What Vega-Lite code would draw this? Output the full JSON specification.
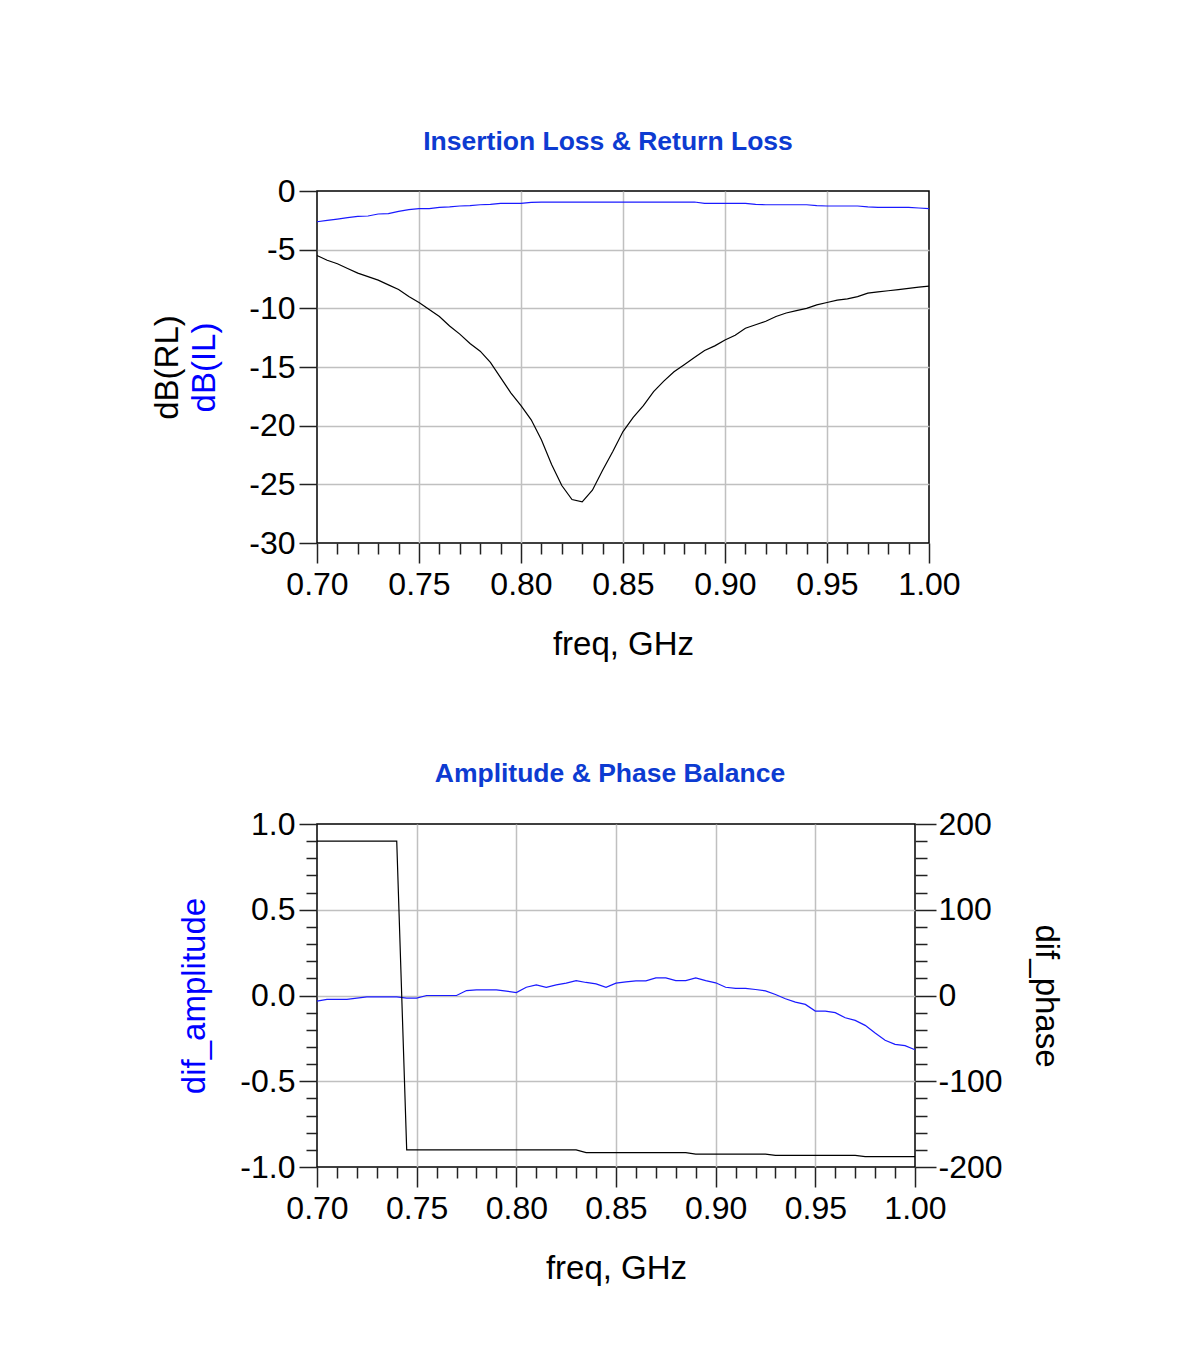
{
  "$schema": "https://vega.github.io/schema/vega-lite/v6.json",
  "padding": {"left": 151, "top": 127, "right": 5, "bottom": 5},
  "background": "white",
  "config": {
    "font": "Liberation Sans",
    "view": {"stroke": "#000000", "strokeWidth": 1.5},
    "axis": {
      "domain": false,
      "labelFont": "Liberation Sans",
      "labelFontSize": 32,
      "labelColor": "#000000",
      "titleFont": "Liberation Sans",
      "titleFontSize": 33,
      "titleFontWeight": "normal",
      "titleColor": "#000000",
      "tickColor": "#222222",
      "tickWidth": 1.5,
      "gridColor": "#c0c0c0",
      "gridWidth": 1.5,
      "labelFlush": false,
      "labelOverlap": false,
      "labelBound": false
    },
    "title": {"font": "Liberation Sans", "fontSize": 26.5, "fontWeight": "bold", "color": "#0d3bd1"},
    "concat": {"spacing": 97}
  },
  "datasets": {
    "top": [
      {"f": 0.700, "IL": -2.62, "RL": -5.5},
      {"f": 0.705, "IL": -2.50, "RL": -5.9},
      {"f": 0.710, "IL": -2.39, "RL": -6.2},
      {"f": 0.715, "IL": -2.27, "RL": -6.6},
      {"f": 0.720, "IL": -2.16, "RL": -7.0},
      {"f": 0.725, "IL": -2.13, "RL": -7.3},
      {"f": 0.730, "IL": -1.96, "RL": -7.6},
      {"f": 0.735, "IL": -1.93, "RL": -8.0},
      {"f": 0.740, "IL": -1.73, "RL": -8.4},
      {"f": 0.745, "IL": -1.59, "RL": -9.0},
      {"f": 0.750, "IL": -1.51, "RL": -9.5},
      {"f": 0.755, "IL": -1.51, "RL": -10.1},
      {"f": 0.760, "IL": -1.39, "RL": -10.7},
      {"f": 0.765, "IL": -1.36, "RL": -11.5},
      {"f": 0.770, "IL": -1.28, "RL": -12.2},
      {"f": 0.775, "IL": -1.25, "RL": -13.0},
      {"f": 0.780, "IL": -1.17, "RL": -13.65},
      {"f": 0.785, "IL": -1.14, "RL": -14.6},
      {"f": 0.790, "IL": -1.05, "RL": -15.9},
      {"f": 0.795, "IL": -1.05, "RL": -17.2},
      {"f": 0.800, "IL": -1.05, "RL": -18.3},
      {"f": 0.805, "IL": -0.97, "RL": -19.5},
      {"f": 0.810, "IL": -0.94, "RL": -21.2},
      {"f": 0.815, "IL": -0.94, "RL": -23.3},
      {"f": 0.820, "IL": -0.94, "RL": -25.1},
      {"f": 0.825, "IL": -0.94, "RL": -26.3},
      {"f": 0.830, "IL": -0.94, "RL": -26.5},
      {"f": 0.835, "IL": -0.94, "RL": -25.5},
      {"f": 0.840, "IL": -0.94, "RL": -23.8},
      {"f": 0.845, "IL": -0.94, "RL": -22.2},
      {"f": 0.850, "IL": -0.94, "RL": -20.5},
      {"f": 0.855, "IL": -0.94, "RL": -19.3},
      {"f": 0.860, "IL": -0.94, "RL": -18.3},
      {"f": 0.865, "IL": -0.94, "RL": -17.1},
      {"f": 0.870, "IL": -0.94, "RL": -16.2},
      {"f": 0.875, "IL": -0.94, "RL": -15.4},
      {"f": 0.880, "IL": -0.94, "RL": -14.8},
      {"f": 0.885, "IL": -0.94, "RL": -14.2},
      {"f": 0.890, "IL": -1.05, "RL": -13.6},
      {"f": 0.895, "IL": -1.05, "RL": -13.2},
      {"f": 0.900, "IL": -1.05, "RL": -12.7},
      {"f": 0.905, "IL": -1.05, "RL": -12.3},
      {"f": 0.910, "IL": -1.05, "RL": -11.7},
      {"f": 0.915, "IL": -1.14, "RL": -11.4},
      {"f": 0.920, "IL": -1.17, "RL": -11.1},
      {"f": 0.925, "IL": -1.17, "RL": -10.7},
      {"f": 0.930, "IL": -1.17, "RL": -10.4},
      {"f": 0.935, "IL": -1.17, "RL": -10.2},
      {"f": 0.940, "IL": -1.17, "RL": -10.0},
      {"f": 0.945, "IL": -1.25, "RL": -9.7},
      {"f": 0.950, "IL": -1.28, "RL": -9.5},
      {"f": 0.955, "IL": -1.28, "RL": -9.3},
      {"f": 0.960, "IL": -1.28, "RL": -9.2},
      {"f": 0.965, "IL": -1.28, "RL": -9.0},
      {"f": 0.970, "IL": -1.36, "RL": -8.7},
      {"f": 0.975, "IL": -1.39, "RL": -8.6},
      {"f": 0.980, "IL": -1.39, "RL": -8.5},
      {"f": 0.985, "IL": -1.39, "RL": -8.4},
      {"f": 0.990, "IL": -1.39, "RL": -8.3},
      {"f": 0.995, "IL": -1.45, "RL": -8.2},
      {"f": 1.000, "IL": -1.51, "RL": -8.1}
    ],
    "bot": [
      {"f": 0.700, "amp": -0.033, "phase": 180},
      {"f": 0.705, "amp": -0.023, "phase": 180},
      {"f": 0.710, "amp": -0.023, "phase": 180},
      {"f": 0.715, "amp": -0.023, "phase": 180},
      {"f": 0.720, "amp": -0.015, "phase": 180},
      {"f": 0.725, "amp": -0.008, "phase": 180},
      {"f": 0.730, "amp": -0.008, "phase": 180},
      {"f": 0.735, "amp": -0.008, "phase": 180},
      {"f": 0.740, "amp": -0.008, "phase": 180},
      {"f": 0.745, "amp": -0.015, "phase": -180},
      {"f": 0.750, "amp": -0.015, "phase": -180},
      {"f": 0.755, "amp": 0.0, "phase": -180},
      {"f": 0.760, "amp": 0.0, "phase": -180},
      {"f": 0.765, "amp": 0.0, "phase": -180},
      {"f": 0.770, "amp": 0.0, "phase": -180},
      {"f": 0.775, "amp": 0.029, "phase": -180},
      {"f": 0.780, "amp": 0.033, "phase": -180},
      {"f": 0.785, "amp": 0.033, "phase": -180},
      {"f": 0.790, "amp": 0.033, "phase": -180},
      {"f": 0.795, "amp": 0.025, "phase": -180},
      {"f": 0.800, "amp": 0.017, "phase": -180},
      {"f": 0.805, "amp": 0.048, "phase": -180},
      {"f": 0.810, "amp": 0.062, "phase": -180},
      {"f": 0.815, "amp": 0.048, "phase": -180},
      {"f": 0.820, "amp": 0.062, "phase": -180},
      {"f": 0.825, "amp": 0.072, "phase": -180},
      {"f": 0.830, "amp": 0.087, "phase": -180},
      {"f": 0.835, "amp": 0.076, "phase": -183.3},
      {"f": 0.840, "amp": 0.068, "phase": -183.3},
      {"f": 0.845, "amp": 0.048, "phase": -183.3},
      {"f": 0.850, "amp": 0.072, "phase": -183.3},
      {"f": 0.855, "amp": 0.079, "phase": -183.3},
      {"f": 0.860, "amp": 0.085, "phase": -183.3},
      {"f": 0.865, "amp": 0.085, "phase": -183.3},
      {"f": 0.870, "amp": 0.103, "phase": -183.3},
      {"f": 0.875, "amp": 0.103, "phase": -183.3},
      {"f": 0.880, "amp": 0.087, "phase": -183.3},
      {"f": 0.885, "amp": 0.087, "phase": -183.3},
      {"f": 0.890, "amp": 0.103, "phase": -185},
      {"f": 0.895, "amp": 0.087, "phase": -185},
      {"f": 0.900, "amp": 0.074, "phase": -185},
      {"f": 0.905, "amp": 0.048, "phase": -185},
      {"f": 0.910, "amp": 0.041, "phase": -185},
      {"f": 0.915, "amp": 0.041, "phase": -185},
      {"f": 0.920, "amp": 0.035, "phase": -185},
      {"f": 0.925, "amp": 0.027, "phase": -185},
      {"f": 0.930, "amp": 0.006, "phase": -186.5},
      {"f": 0.935, "amp": -0.019, "phase": -186.5},
      {"f": 0.940, "amp": -0.039, "phase": -186.5},
      {"f": 0.945, "amp": -0.052, "phase": -186.5},
      {"f": 0.950, "amp": -0.091, "phase": -186.5},
      {"f": 0.955, "amp": -0.091, "phase": -186.5},
      {"f": 0.960, "amp": -0.100, "phase": -186.5},
      {"f": 0.965, "amp": -0.130, "phase": -186.5},
      {"f": 0.970, "amp": -0.145, "phase": -186.5},
      {"f": 0.975, "amp": -0.174, "phase": -188},
      {"f": 0.980, "amp": -0.219, "phase": -188},
      {"f": 0.985, "amp": -0.261, "phase": -188},
      {"f": 0.990, "amp": -0.285, "phase": -188},
      {"f": 0.995, "amp": -0.292, "phase": -188},
      {"f": 1.000, "amp": -0.316, "phase": -188}
    ]
  },
  "vconcat": [
    {
      "title": {"text": "Insertion Loss & Return Loss", "offset": 20, "dx": -15},
      "width": 612,
      "height": 352,
      "data": {"name": "top"},
      "layer": [
        {
          "mark": {"type": "line", "color": "#000000", "strokeWidth": 1.2},
          "encoding": {
            "x": {
              "field": "f", "type": "quantitative",
              "scale": {"domain": [0.7, 1.0], "nice": false, "zero": false},
              "axis": {
                "values": [0.7, 0.75, 0.8, 0.85, 0.9, 0.95, 1.0],
                "labelExpr": "format(datum.value, '.2f')",
                "tickSize": 20, "labelPadding": 6,
                "title": "freq, GHz", "titlePadding": 28,
                "grid": true,
                "gridOpacity": {"condition": {"test": "datum.value < 0.701 || datum.value > 0.999", "value": 0}, "value": 1},
                "orient": "bottom"
              }
            },
            "y": {
              "field": "RL", "type": "quantitative",
              "scale": {"domain": [-30, 0], "nice": false, "zero": false},
              "axis": {
                "values": [-30, -25, -20, -15, -10, -5, 0],
                "labelExpr": "datum.value + ''",
                "tickSize": 18, "labelPadding": 4,
                "title": "dB(RL)", "titlePadding": 64,
                "grid": true,
                "gridOpacity": {"condition": {"test": "datum.value < -29.9 || datum.value > -0.1", "value": 0}, "value": 1},
                "orient": "left"
              }
            }
          }
        },
        {
          "mark": {"type": "line", "color": "#1a1aff", "strokeWidth": 1.2},
          "encoding": {
            "x": {
              "field": "f", "type": "quantitative",
              "axis": {
                "values": [0.71, 0.72, 0.73, 0.74, 0.76, 0.77, 0.78, 0.79, 0.81, 0.82, 0.83, 0.84, 0.86, 0.87, 0.88, 0.89, 0.91, 0.92, 0.93, 0.94, 0.96, 0.97, 0.98, 0.99],
                "tickSize": 11, "labels": false, "grid": false, "title": null, "orient": "bottom"
              }
            },
            "y": {
              "field": "IL", "type": "quantitative",
              "axis": {
                "orient": "left", "ticks": false, "labels": false, "grid": false,
                "title": "dB(IL)", "titleColor": "#0000ff", "titlePadding": 96
              }
            }
          }
        }
      ],
      "resolve": {"axis": {"x": "independent", "y": "independent"}}
    },
    {
      "title": {"text": "Amplitude & Phase Balance", "offset": 21, "dx": -6},
      "width": 598,
      "height": 343,
      "data": {"name": "bot"},
      "layer": [
        {
          "mark": {"type": "line", "color": "#1a1aff", "strokeWidth": 1.2},
          "encoding": {
            "x": {
              "field": "f", "type": "quantitative",
              "scale": {"domain": [0.7, 1.0], "nice": false, "zero": false},
              "axis": {
                "values": [0.7, 0.75, 0.8, 0.85, 0.9, 0.95, 1.0],
                "labelExpr": "format(datum.value, '.2f')",
                "tickSize": 20, "labelPadding": 6,
                "title": "freq, GHz", "titlePadding": 28,
                "grid": true,
                "gridOpacity": {"condition": {"test": "datum.value < 0.701 || datum.value > 0.999", "value": 0}, "value": 1},
                "orient": "bottom"
              }
            },
            "y": {
              "field": "amp", "type": "quantitative",
              "scale": {"domain": [-1, 1], "nice": false, "zero": false},
              "axis": {
                "values": [-1, -0.5, 0, 0.5, 1],
                "labelExpr": "replace(format(datum.value, '.1f'), '−', '-')",
                "tickSize": 18, "labelPadding": 4,
                "title": "dif_amplitude", "titleColor": "#0000ff", "titlePadding": 28,
                "grid": true,
                "gridOpacity": {"condition": {"test": "abs(datum.value) > 0.99", "value": 0}, "value": 1},
                "orient": "left"
              }
            }
          }
        },
        {
          "mark": {"type": "line", "color": "#000000", "strokeWidth": 1.2},
          "encoding": {
            "x": {
              "field": "f", "type": "quantitative",
              "scale": {"domain": [0.7, 1.0], "nice": false, "zero": false},
              "axis": {
                "values": [0.71, 0.72, 0.73, 0.74, 0.76, 0.77, 0.78, 0.79, 0.81, 0.82, 0.83, 0.84, 0.86, 0.87, 0.88, 0.89, 0.91, 0.92, 0.93, 0.94, 0.96, 0.97, 0.98, 0.99],
                "tickSize": 11, "labels": false, "grid": false, "title": null, "orient": "bottom"
              }
            },
            "y": {
              "field": "phase", "type": "quantitative",
              "scale": {"domain": [-200, 200], "nice": false, "zero": false},
              "axis": {
                "values": [-200, -100, 0, 100, 200],
                "labelExpr": "datum.value + ''",
                "tickSize": 21, "labelPadding": 2,
                "title": "dif_phase", "titlePadding": 26,
                "grid": false,
                "orient": "right"
              }
            }
          }
        },
        {
          "data": {"values": []},
          "mark": {"type": "line", "color": "#0000ff"},
          "encoding": {
            "x": {"field": "f", "type": "quantitative", "axis": null},
            "y": {
              "field": "amp", "type": "quantitative",
              "scale": {"domain": [-1, 1], "nice": false, "zero": false},
              "axis": {
                "values": [-0.9, -0.8, -0.7, -0.6, -0.4, -0.3, -0.2, -0.1, 0.1, 0.2, 0.3, 0.4, 0.6, 0.7, 0.8, 0.9],
                "tickSize": 11, "labels": false, "grid": false, "title": null, "orient": "left"
              }
            }
          }
        },
        {
          "data": {"values": []},
          "mark": {"type": "line", "color": "#000000"},
          "encoding": {
            "x": {"field": "f", "type": "quantitative", "axis": null},
            "y": {
              "field": "phase", "type": "quantitative",
              "scale": {"domain": [-200, 200], "nice": false, "zero": false},
              "axis": {
                "values": [-180, -160, -140, -120, -80, -60, -40, -20, 20, 40, 60, 80, 120, 140, 160, 180],
                "tickSize": 12, "labels": false, "grid": false, "title": null, "orient": "right"
              }
            }
          }
        }
      ],
      "resolve": {"scale": {"y": "independent"}, "axis": {"x": "independent", "y": "independent"}}
    }
  ]
}
